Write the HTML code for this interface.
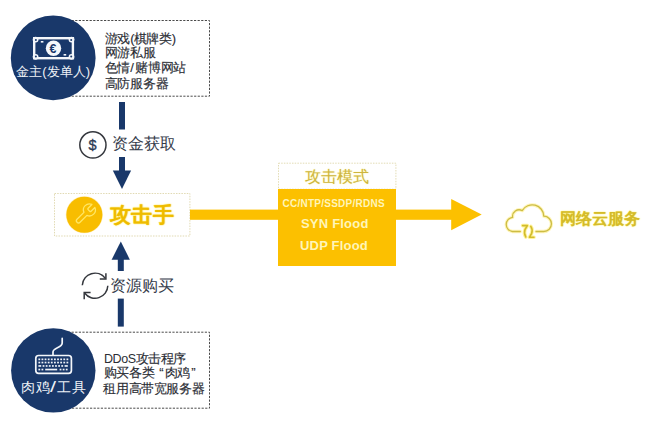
<!DOCTYPE html>
<html><head><meta charset="utf-8">
<style>
html,body{margin:0;padding:0;background:#fff;}
body{width:664px;height:421px;position:relative;overflow:hidden;font-family:"Liberation Sans",sans-serif;}
svg{position:absolute;left:0;top:0;}
.t{position:absolute;white-space:nowrap;line-height:1;}
.list{color:#2b2e35;font-size:13px;font-weight:500;letter-spacing:-0.3px;-webkit-text-stroke:0.15px #2b2e35;}
.p{letter-spacing:-0.8px;}
.l2{letter-spacing:-0.4px;font-size:13px;}
.sl{letter-spacing:1.5px;}
.lat{font-size:12.5px;letter-spacing:-0.45px;-webkit-text-stroke:0;}
.ctext{color:#eef2f7;font-size:15px;font-weight:500;}
.lbl{color:#353b4a;font-size:16.4px;font-weight:500;letter-spacing:0px;}
</style></head>
<body>
<svg width="664" height="421" viewBox="0 0 664 421">
  <!-- dashed boxes -->
  <rect x="50" y="20.5" width="159.5" height="75.7" fill="none" stroke="#4a4a4a" stroke-width="1" stroke-dasharray="2.2 1.4"/>
  <rect x="50" y="332.2" width="159.5" height="76" fill="none" stroke="#4a4a4a" stroke-width="1" stroke-dasharray="2.2 1.4"/>
  <!-- navy circles -->
  <circle cx="53.2" cy="57.9" r="42.4" fill="#19386a"/>
  <circle cx="53.3" cy="370.4" r="42.2" fill="#19386a"/>
  <!-- banknote icon -->
  <rect x="34.2" y="38.2" width="38.7" height="20" fill="none" stroke="#f4f7fb" stroke-width="2.4"/>
  <g fill="#f4f7fb">
    <circle cx="35.6" cy="39.6" r="2.9"/><circle cx="71.5" cy="39.6" r="2.9"/>
    <circle cx="35.6" cy="56.8" r="2.9"/><circle cx="71.5" cy="56.8" r="2.9"/>
    <rect x="40.8" y="41" width="2.6" height="1.6"/>
    <rect x="63.6" y="54" width="2.6" height="1.6"/>
    <circle cx="53.5" cy="48.2" r="7.7"/>
  </g>
  <g fill="#19386a">
    <circle cx="35.9" cy="39.9" r="1"/><circle cx="71.2" cy="39.9" r="1"/>
    <circle cx="35.9" cy="56.5" r="1"/><circle cx="71.2" cy="56.5" r="1"/>
  </g>
  <text x="53" y="52.6" text-anchor="middle" font-family="Liberation Sans" font-weight="bold" font-size="12.5" fill="#19386a">€</text>
  <!-- keyboard icon -->
  <g fill="none" stroke="#f4f7fb" stroke-width="1.7" stroke-linecap="round">
    <rect x="35.8" y="355.5" width="35.6" height="17.9" rx="2.8"/>
    <path d="M53,355.2 V352 C53,347.5 62.2,348 62.2,343 V338.4"/>
  </g>
  <g fill="#eef2f8" id="keys"><rect x="38.40" y="358.5" width="1.8" height="1.7"/><rect x="41.52" y="358.5" width="1.8" height="1.7"/><rect x="44.64" y="358.5" width="1.8" height="1.7"/><rect x="47.76" y="358.5" width="1.8" height="1.7"/><rect x="50.88" y="358.5" width="1.8" height="1.7"/><rect x="54.00" y="358.5" width="1.8" height="1.7"/><rect x="57.12" y="358.5" width="1.8" height="1.7"/><rect x="60.24" y="358.5" width="1.8" height="1.7"/><rect x="63.36" y="358.5" width="1.8" height="1.7"/><rect x="66.48" y="358.5" width="1.8" height="1.7"/><rect x="38.40" y="361.7" width="1.8" height="1.7"/><rect x="41.52" y="361.7" width="1.8" height="1.7"/><rect x="44.64" y="361.7" width="1.8" height="1.7"/><rect x="47.76" y="361.7" width="1.8" height="1.7"/><rect x="50.88" y="361.7" width="1.8" height="1.7"/><rect x="54.00" y="361.7" width="1.8" height="1.7"/><rect x="57.12" y="361.7" width="1.8" height="1.7"/><rect x="60.24" y="361.7" width="1.8" height="1.7"/><rect x="63.36" y="361.7" width="1.8" height="1.7"/><rect x="66.48" y="361.7" width="1.8" height="1.7"/><rect x="38.40" y="365.1" width="2.8" height="1.7"/><rect x="42.60" y="365.1" width="1.8" height="1.7"/><rect x="45.72" y="365.1" width="1.8" height="1.7"/><rect x="48.84" y="365.1" width="1.8" height="1.7"/><rect x="51.96" y="365.1" width="1.8" height="1.7"/><rect x="55.08" y="365.1" width="1.8" height="1.7"/><rect x="58.20" y="365.1" width="1.8" height="1.7"/><rect x="61.32" y="365.1" width="1.8" height="1.7"/><rect x="64.60" y="365.1" width="3.2" height="1.7"/><rect x="38.40" y="368.7" width="1.8" height="1.7"/><rect x="41.50" y="368.7" width="1.8" height="1.7"/><rect x="45.20" y="368.7" width="12.0" height="1.7"/><rect x="59.60" y="368.7" width="1.8" height="1.7"/><rect x="62.70" y="368.7" width="1.8" height="1.7"/><rect x="65.80" y="368.7" width="1.8" height="1.7"/></g>
  <!-- shafts top -->
  <rect x="119" y="102" width="6" height="27.5" fill="#19386a"/>
  <rect x="119" y="157" width="6" height="14" fill="#19386a"/>
  <polygon points="112.8,170.4 131.1,170.4 122,189" fill="#19386a"/>
  <!-- shafts bottom -->
  <polygon points="111.6,259.7 129.9,259.7 120.8,241.5" fill="#19386a"/>
  <rect x="117.8" y="259" width="6" height="12" fill="#19386a"/>
  <rect x="117.8" y="298.6" width="6" height="28" fill="#19386a"/>
  <!-- dollar circle -->
  <circle cx="92.9" cy="144.9" r="13.1" fill="none" stroke="#34373d" stroke-width="1.5"/>
  <text x="92.6" y="149.6" text-anchor="middle" font-family="Liberation Sans" font-size="14.5" fill="#2a3a55" stroke="#2a3a55" stroke-width="0.35">$</text>
  <!-- refresh icon -->
  <g fill="none" stroke="#34373d" stroke-width="1.5" stroke-linecap="butt">
    <path d="M82.3,285.2 A12.8,12.8 0 0 1 105.2,278.2"/>
    <path d="M105.9,273.2 V279 H99.8"/>
    <path d="M107.8,285.8 A12.8,12.8 0 0 1 84.8,293.2"/>
    <path d="M84.2,299.2 V292.6 H90.6"/>
  </g>
  <!-- attacker box -->
  <rect x="54.5" y="193.5" width="135.4" height="42.5" fill="none" stroke="#d9d0a0" stroke-width="0.8" stroke-dasharray="1.5 1.2"/>
  <circle cx="84.35" cy="214.75" r="18.6" fill="#ffe79a" opacity="0.7"/>
  <circle cx="84.35" cy="214.75" r="18" fill="#f8bd00"/>
  <g transform="translate(73.4,201.9) scale(1.0)" fill="none" stroke="#ffe766" stroke-width="1.3" stroke-linejoin="round">
    <path d="M14.7 6.3a1 1 0 0 0 0 1.4l1.6 1.6a1 1 0 0 0 1.4 0l3.77-3.77a6 6 0 0 1-7.94 7.94l-6.91 6.91a2.12 2.12 0 0 1-3-3l6.91-6.91a6 6 0 0 1 7.940-7.94l-3.76 3.760z"/>
  </g>
  <!-- yellow bar -->
  <rect x="190" y="209.6" width="262" height="10.2" fill="#fcc000"/>
  <polygon points="451.2,199.1 481.7,214.6 451.2,230.2" fill="#fcc000"/>
  <!-- mode box -->
  <rect x="278.5" y="163.2" width="117.4" height="26" fill="#fff" stroke="#dcd3a2" stroke-width="0.8" stroke-dasharray="1.5 1.2"/>
  <rect x="278" y="189" width="118" height="77" fill="#fcc000"/>
  <!-- cloud -->
  <g fill="none" stroke="#fff2a0" stroke-width="3.4" stroke-linecap="round" stroke-linejoin="round" opacity="0.75">
    <path d="M520.3,231.5 H512.4 A7.1,7.1 0 0 1 512.6,217.4 A6.6,6.6 0 0 1 522.2,210.6 A11.6,11.6 0 0 1 543.8,216.2 A7.65,7.65 0 0 1 543.8,231.5 H536"/>
  </g>
  <g fill="none" stroke="#cdbd44" stroke-width="1.3" stroke-linecap="round" stroke-linejoin="round">
    <path d="M520.3,231.5 H512.4 A7.1,7.1 0 0 1 512.6,217.4 A6.6,6.6 0 0 1 522.2,210.6 A11.6,11.6 0 0 1 543.8,216.2 A7.65,7.65 0 0 1 543.8,231.5 H536"/>
  </g>
  <g fill="none" stroke="#fff080" stroke-width="3.6" stroke-linecap="round" stroke-linejoin="round" opacity="0.8">
    <path d="M522.6,225.6 H527.4 L525,229.5 Q523.6,233.5 525.8,237"/>
    <path d="M534,237.3 H529.4 L531.6,233.5 Q533,229.5 530.8,226.4"/>
  </g>
  <g fill="none" stroke="#d2bc2c" stroke-width="1.6" stroke-linecap="round" stroke-linejoin="round">
    <path d="M522.6,225.6 H527.4 L525,229.5 Q523.6,233.5 525.8,237"/>
    <path d="M534,237.3 H529.4 L531.6,233.5 Q533,229.5 530.8,226.4"/>
  </g>
</svg>
<div class="t list" style="left:104.8px;top:32.1px;">游戏<span class="p">(</span>棋牌类<span class="p">)</span></div>
<div class="t list" style="left:104.8px;top:45.7px;">网游私服</div>
<div class="t list" style="left:104.8px;top:60.6px;">色情<span class="sl">/</span>赌博网站</div>
<div class="t list" style="left:104.8px;top:77.4px;">高防服务器</div>
<div class="t list l2" style="left:104px;top:351.8px;"><span class="lat">DDoS</span>攻击程序</div>
<div class="t list l2" style="left:103.8px;top:366.1px;">购买各类<span style="padding-left:5px;letter-spacing:1.2px">“</span>肉鸡<span style="padding-left:1.2px">”</span></div>
<div class="t list l2" style="left:103.4px;top:382.1px;">租用高带宽服务器</div>
<div class="t ctext" style="left:16px;top:64.6px;font-size:13px;letter-spacing:0.1px;font-weight:500;">金主<span style="letter-spacing:0px;">(</span>发单人<span>)</span></div>
<div class="t ctext" style="left:21px;top:379.3px;font-size:14px;letter-spacing:0.7px;">肉鸡<span style="display:inline-block;transform:scaleX(1.45);font-size:15px;margin-left:0.5px;margin-right:2px;letter-spacing:0">/</span>工具</div>
<div class="t lbl" style="left:112.3px;top:135.1px;">资金获取</div>
<div class="t lbl" style="left:110.2px;top:276.7px;">资源购买</div>
<div class="t" style="left:109.5px;top:204.6px;font-size:20.5px;font-weight:900;letter-spacing:0.6px;color:#eebb00;text-shadow:0 0 1.5px #ffe030,0 0 1px #ffe870;">攻击手</div>
<div class="t" style="left:304.6px;top:169.2px;font-size:15.8px;font-weight:350;color:#cdb540;letter-spacing:0.3px;text-shadow:0 0 1.5px #fff080;">攻击模式</div>
<div class="t" style="left:282.5px;top:198.5px;font-size:10px;font-weight:bold;letter-spacing:0.25px;color:#fff5b8;">CC/NTP/SSDP/RDNS</div>
<div class="t" style="left:301px;top:216.8px;font-size:13px;font-weight:bold;letter-spacing:0.2px;color:#fff5b8;">SYN Flood</div>
<div class="t" style="left:300px;top:239.2px;font-size:13px;font-weight:bold;letter-spacing:0.2px;color:#fff5b8;">UDP Flood</div>
<div class="t" style="left:560px;top:211px;font-size:16px;font-weight:bold;color:#d4bb2a;text-shadow:0 0 1.5px #fff060,0 0 1px #fff2a0;">网络云服务</div>
</body></html>
